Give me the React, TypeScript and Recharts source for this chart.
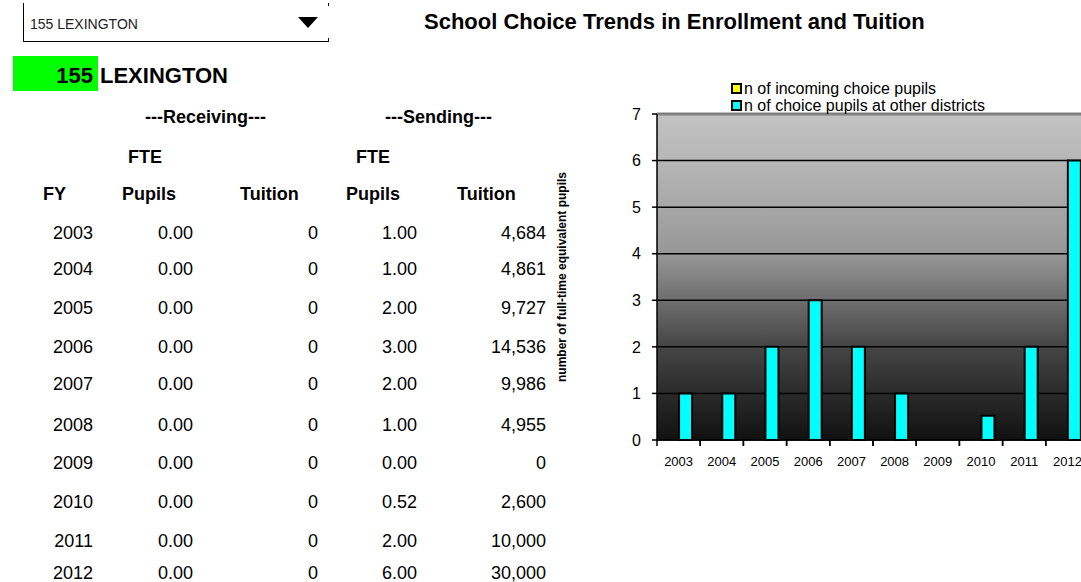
import React from 'react';
import { BarChart, Bar, XAxis, YAxis, CartesianGrid, ReferenceLine, Legend, Label } from 'recharts';

const years = ['2003', '2004', '2005', '2006', '2007', '2008', '2009', '2010', '2011', '2012'];
const recvPupils = [0, 0, 0, 0, 0, 0, 0, 0, 0, 0];
const recvTuition = [0, 0, 0, 0, 0, 0, 0, 0, 0, 0];
const sendPupils = [1, 1, 2, 3, 2, 1, 0, 0.52, 2, 6];
const sendTuition = [4684, 4861, 9727, 14536, 9986, 4955, 0, 2600, 10000, 30000];
const yTicks = [0, 1, 2, 3, 4, 5, 6, 7];
const seriesNames = ['n of incoming choice pupils', 'n of choice pupils at other districts'];
const seriesColors = ['#ffff00', '#00ffff'];
const districtCode = '155';
const districtName = 'LEXINGTON';
const title = 'School Choice Trends in Enrollment and Tuition';
const yLabel = 'number of full-time equivalent pupils';

const chartData = years.map((y, i) => ({ year: y, incoming: recvPupils[i], sending: sendPupils[i] }));

const FONT = "Arial, 'Liberation Sans', sans-serif";
const rowY = [233, 269, 308, 347, 384, 425, 463, 502, 541, 573];

type TProps = { x: number; y: number; text: string; align?: 'left' | 'right' | 'center'; bold?: boolean; size?: number; color?: string };
const T = ({ x, y, text, align = 'left', bold = false, size = 18, color = '#000' }: TProps) => {
  const w = 300;
  const left = align === 'left' ? x : align === 'right' ? x - w : x - w / 2;
  return (
    <div
      style={{
        position: 'absolute',
        left,
        top: y - 15,
        width: w,
        height: 30,
        lineHeight: '30px',
        textAlign: align,
        fontWeight: bold ? 'bold' : 'normal',
        fontSize: size,
        color,
        whiteSpace: 'nowrap',
      }}
    >
      {text}
    </div>
  );
};

const fmt2 = (v: number) => v.toFixed(2);
const fmtInt = (v: number) => v.toLocaleString('en-US');

const XTick = (props: any) => {
  const { x, y, payload } = props;
  const off = payload && typeof payload.offset === 'number' && payload.offset > 0 ? payload.offset : 21.6;
  return (
    <g>
      <line x1={x - off} x2={x - off} y1={y} y2={y + 6} stroke="#000" strokeWidth={1.5} />
      <line x1={x + off} x2={x + off} y1={y} y2={y + 6} stroke="#000" strokeWidth={1.5} />
      <text x={x} y={y + 21} textAnchor="middle" dominantBaseline="central" fontSize={13} fill="#000" fontFamily={FONT}>
        {payload.value}
      </text>
    </g>
  );
};

const renderLegend = () => (
  <div style={{ fontFamily: FONT, fontSize: 16, color: '#000', lineHeight: '17px' }}>
    {seriesNames.map((n, i) => (
      <div key={n} style={{ display: 'flex', alignItems: 'center', whiteSpace: 'nowrap' }}>
        <span
          style={{
            display: 'inline-block',
            width: 7,
            height: 7,
            background: seriesColors[i],
            border: '2px solid #000',
            marginRight: 2,
          }}
        />
        <span>{n}</span>
      </div>
    ))}
  </div>
);

const YLabelContent = (props: any) => {
  const vb = props.viewBox || { x: 0, y: 0, width: 0, height: 0 };
  const cx = vb.x + 12;
  const cy = vb.y + vb.height / 2;
  return (
    <text
      x={cx}
      y={cy}
      transform={`rotate(-90, ${cx}, ${cy})`}
      textAnchor="middle"
      dominantBaseline="central"
      fontSize={12}
      fontWeight="bold"
      fill="#000"
      fontFamily={FONT}
    >
      {yLabel}
    </text>
  );
};

export default function App() {
  return (
    <div
      style={{
        position: 'fixed',
        left: 0,
        top: 0,
        width: 1081,
        height: 582,
        overflow: 'hidden',
        background: '#fff',
        fontFamily: FONT,
      }}
    >
      {/* dropdown */}
      <div style={{ position: 'absolute', left: 23, top: 3, width: 1, height: 38, background: '#000' }} />
      <div style={{ position: 'absolute', left: 23, top: 41, width: 306, height: 1, background: '#000' }} />
      <div style={{ position: 'absolute', left: 328, top: 3, width: 1, height: 3, background: '#000' }} />
      <div style={{ position: 'absolute', left: 328, top: 38, width: 1, height: 4, background: '#000' }} />
      <T x={30} y={24} text={`${districtCode} ${districtName}`} size={14} color="#222" />
      <div
        style={{
          position: 'absolute',
          left: 298,
          top: 17,
          width: 0,
          height: 0,
          borderLeft: '10px solid transparent',
          borderRight: '10px solid transparent',
          borderTop: '11px solid #000',
        }}
      />

      {/* title */}
      <T x={424} y={22} text={title} bold size={22} />

      {/* district label */}
      <div style={{ position: 'absolute', left: 13, top: 56, width: 85, height: 35, background: '#00ff00' }} />
      <T x={93} y={76} text={districtCode} bold size={22} align="right" />
      <T x={100} y={76} text={districtName} bold size={22} />

      {/* table headers */}
      <T x={145} y={117} text="---Receiving---" bold />
      <T x={385} y={117} text="---Sending---" bold />
      <T x={128} y={157} text="FTE" bold />
      <T x={356} y={157} text="FTE" bold />
      <T x={43} y={194} text="FY" bold />
      <T x={122} y={194} text="Pupils" bold />
      <T x={240} y={194} text="Tuition" bold />
      <T x={346} y={194} text="Pupils" bold />
      <T x={457} y={194} text="Tuition" bold />

      {years.map((yr, i) => (
        <React.Fragment key={yr}>
          <T x={93} y={rowY[i]} text={yr} align="right" />
          <T x={193} y={rowY[i]} text={fmt2(recvPupils[i])} align="right" />
          <T x={318} y={rowY[i]} text={fmtInt(recvTuition[i])} align="right" />
          <T x={417} y={rowY[i]} text={fmt2(sendPupils[i])} align="right" />
          <T x={546} y={rowY[i]} text={fmtInt(sendTuition[i])} align="right" />
        </React.Fragment>
      ))}

      {/* chart */}
      <div style={{ position: 'absolute', left: 550, top: 70 }}>
        <BarChart
          width={539}
          height={400}
          data={chartData}
          margin={{ top: 44, right: 0, left: 0, bottom: 0 }}
          barGap={0}
          barCategoryGap="21%"
        >
          <defs>
            <linearGradient id="plotBg" x1="0" y1="0" x2="0" y2="1">
              <stop offset="0%" stopColor="#c2c2c2" />
              <stop offset="15%" stopColor="#b6b6b6" />
              <stop offset="43%" stopColor="#979797" />
              <stop offset="57%" stopColor="#6e6e6e" />
              <stop offset="71%" stopColor="#464646" />
              <stop offset="86%" stopColor="#2a2a2a" />
              <stop offset="100%" stopColor="#111111" />
            </linearGradient>
          </defs>
          <CartesianGrid vertical={false} stroke="#000" strokeWidth={1.5} fill="url(#plotBg)" fillOpacity={1} />
          <ReferenceLine y={7} stroke="#808080" strokeWidth={3} />
          <XAxis
            dataKey="year"
            height={30}
            tickSize={0}
            tickMargin={0}
            tickLine={false}
            axisLine={{ stroke: '#000', strokeWidth: 1.5 }}
            tick={<XTick />}
            interval={0}
          />
          <YAxis
            width={107}
            domain={[0, 7]}
            ticks={yTicks}
            interval={0}
            tickSize={5}
            tickMargin={11}
            tickLine={{ stroke: '#000', strokeWidth: 1.5 }}
            axisLine={{ stroke: '#000', strokeWidth: 1.5 }}
            tick={{ fill: '#000', fontSize: 16, fontFamily: FONT }}
          >
            <Label content={<YLabelContent />} />
          </YAxis>
          <Legend
            layout="horizontal"
            verticalAlign="middle"
            align="center"
            content={renderLegend}
            wrapperStyle={{ left: 181, top: 10, width: 360 }}
          />
          <Bar dataKey="incoming" name={seriesNames[0]} fill={seriesColors[0]} stroke="#000" strokeWidth={2} isAnimationActive={false} />
          <Bar dataKey="sending" name={seriesNames[1]} fill={seriesColors[1]} stroke="#000" strokeWidth={2} isAnimationActive={false} />
        </BarChart>
      </div>
    </div>
  );
}
